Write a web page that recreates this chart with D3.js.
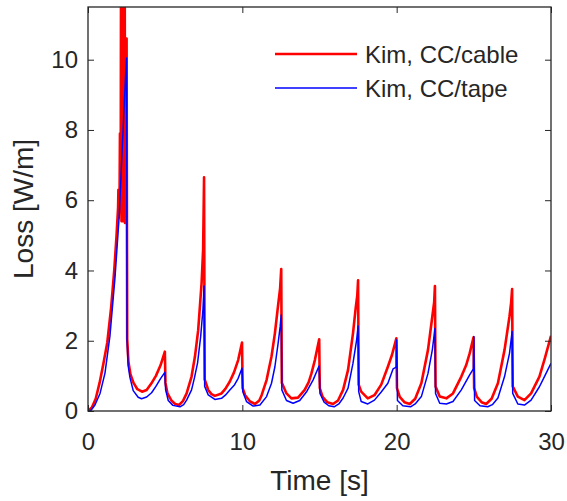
<!DOCTYPE html>
<html>
<head>
<meta charset="utf-8">
<script src="https://cdn.jsdelivr.net/npm/d3@7"></script>
<style>
  body { margin: 0; background: #fff; }
  text { font-family: "Liberation Sans", Arial, sans-serif; fill: #262626; }
</style>
</head>
<body>
<div id="container"></div>
<script>
// Chart size and plot box
const width = 567;
const height = 501;
const marginTop = 7;
const marginRight = 16;
const marginBottom = 90;
const marginLeft = 88;

// Values
const timeCable = [
  0, 0.25, 0.5, 0.75, 1.0, 1.25, 1.5, 1.7, 1.85, 1.95, 1.97, 1.99, 2.05, 2.07, 2.09, 2.12,
  2.14, 2.17, 2.2, 2.23, 2.26, 2.29, 2.32, 2.35, 2.38, 2.4, 2.44, 2.5, 2.54, 2.62, 2.75,
  2.95, 3.2, 3.5, 3.8, 4.1, 4.4, 4.7, 4.98,
  5.02, 5.15, 5.4, 5.65, 5.9, 6.15, 6.39, 6.71, 6.93, 7.14, 7.36, 7.46, 7.52, 7.56, 7.79,
  8.0, 8.22, 8.65, 8.9, 9.19, 9.46, 9.73, 9.98,
  10.02, 10.18, 10.5, 10.82, 11.1, 11.25, 11.57, 11.89, 12.11, 12.32, 12.45, 12.52, 12.56,
  12.86, 13.18, 13.61, 14.04, 14.3, 14.48, 14.7, 14.98,
  15.02, 15.2, 15.5, 15.88, 16.2, 16.53, 16.85, 17.17, 17.35, 17.45, 17.5, 17.54, 17.7,
  18.13, 18.56, 19.0, 19.43, 19.7, 19.98,
  20.02, 20.2, 20.5, 20.85, 21.2, 21.6, 22.03, 22.31, 22.43, 22.48, 22.52, 22.79, 23.22,
  23.65, 24.19, 24.5, 24.73, 24.98,
  25.02, 25.2, 25.5, 25.8, 26.15, 26.56, 26.99, 27.31, 27.42, 27.48, 27.52, 27.85, 28.28,
  28.71, 29.25, 29.6, 30
];
const lossCable = [
  0, 0.1, 0.35, 0.8, 1.35, 1.95, 2.95, 4.0, 5.0, 5.8, 6.3, 5.5, 6.4, 7.9, 6.0, 6.6,
  12.5, 5.4, 12.5, 5.4, 12.5, 5.4, 12.5, 5.4, 12.5, 5.35, 10.6, 10.6, 2.05, 1.4, 1.05,
  0.8, 0.62, 0.55, 0.6, 0.78, 1.0, 1.3, 1.69,
  0.8, 0.5, 0.3, 0.2, 0.17, 0.28, 0.5, 0.98, 1.55, 2.3, 3.64, 4.6, 6.65, 0.9, 0.6,
  0.48, 0.43, 0.5, 0.63, 0.84, 1.1, 1.45, 1.95,
  0.65, 0.45, 0.27, 0.2, 0.3, 0.45, 0.88, 1.55, 2.21, 3.02, 3.5, 4.04, 0.8,
  0.5, 0.36, 0.38, 0.6, 0.82, 1.07, 1.45, 2.04,
  0.65, 0.4, 0.25, 0.2, 0.3, 0.6, 1.17, 2.21, 2.95, 3.3, 3.72, 0.75, 0.55,
  0.36, 0.45, 0.75, 1.26, 1.6, 2.07,
  0.65, 0.4, 0.25, 0.2, 0.35, 0.79, 1.74, 2.69, 3.1, 3.56, 0.7, 0.41, 0.36,
  0.5, 0.98, 1.3, 1.64, 2.1,
  0.65, 0.4, 0.25, 0.2, 0.35, 0.79, 1.74, 2.69, 3.1, 3.47, 0.7, 0.41, 0.31,
  0.5, 0.98, 1.5, 2.14
];

const timeTape = [
  0, 0.2, 0.45, 0.78, 1.1, 1.42, 1.75, 2.03, 2.24, 2.43, 2.5, 2.53, 2.6, 2.72, 2.93, 3.25,
  3.47, 3.8, 4.12, 4.4, 4.7, 4.98,
  5.03, 5.2, 5.5, 5.96, 6.2, 6.39, 6.71, 6.9, 7.1, 7.3, 7.45, 7.52, 7.56, 7.79, 8.22, 8.65,
  8.9, 9.19, 9.5, 9.73, 9.98,
  10.03, 10.27, 10.7, 11.14, 11.57, 11.89, 12.11, 12.32, 12.45, 12.52, 12.56, 12.86, 13.29,
  13.72, 14.15, 14.58, 14.97,
  15.03, 15.3, 15.6, 15.95, 16.25, 16.53, 16.85, 17.17, 17.4, 17.5, 17.54, 17.7, 18.13,
  18.56, 19.0, 19.43, 19.77, 19.97, 20.0,
  20.05, 20.4, 20.9, 21.2, 21.6, 22.03, 22.31, 22.48, 22.52, 22.79, 23.22, 23.65, 24.19,
  24.73, 24.97, 25.0,
  25.05, 25.4, 25.9, 26.2, 26.56, 26.99, 27.31, 27.48, 27.52, 27.85, 28.28, 28.71, 29.25,
  29.6, 30
];
const lossTape = [
  0, 0.02, 0.17, 0.5, 1.08, 2.13, 3.8, 5.6, 7.7, 9.5, 10.05, 2.05, 1.3, 0.95, 0.58, 0.39,
  0.35, 0.4, 0.52, 0.7, 0.92, 1.1,
  0.6, 0.3, 0.16, 0.12, 0.18, 0.31, 0.6, 0.95, 1.37, 2.12, 2.9, 3.56, 0.7, 0.46, 0.33, 0.36,
  0.45, 0.6, 0.75, 0.93, 1.22,
  0.55, 0.27, 0.14, 0.17, 0.41, 0.79, 1.26, 1.93, 2.4, 2.73, 0.6, 0.3, 0.22,
  0.3, 0.54, 0.88, 1.28,
  0.5, 0.25, 0.15, 0.12, 0.2, 0.37, 0.65, 1.36, 2.0, 2.42, 0.55, 0.27, 0.2,
  0.31, 0.54, 0.79, 1.2, 1.25, 2.02,
  0.3, 0.15, 0.12, 0.2, 0.41, 1.07, 1.74, 2.35, 0.5, 0.22, 0.2, 0.27, 0.6,
  1.03, 1.2, 2.12,
  0.3, 0.15, 0.12, 0.18, 0.37, 0.98, 1.64, 2.26, 0.5, 0.2, 0.17, 0.31, 0.69,
  1.0, 1.36
];

const xTicks = [0, 10, 20, 30];
const yTicks = [0, 2, 4, 6, 8, 10];
const seriesNames = ["Kim, CC/cable", "Kim, CC/tape"];
const seriesColors = ["#ff0000", "#0000ff"];
const seriesWidths = [2.6, 1.5];

const svg = d3.create("svg").attr("width", width).attr("height", height);

const x = d3.scaleLinear().domain([0, 30]).range([marginLeft, width - marginRight]);
const y = d3.scaleLinear().domain([0, 11.5]).range([height - marginBottom, marginTop]);

// clip the lines to the plot box
svg.append("clipPath")
  .attr("id", "plot-clip")
  .append("rect")
  .attr("x", marginLeft)
  .attr("y", marginTop)
  .attr("width", width - marginLeft - marginRight)
  .attr("height", height - marginTop - marginBottom);

const line = d3.line()
  .x(d => x(d[0]))
  .y(d => y(d[1]));

const series = [
  d3.zip(timeCable, lossCable),
  d3.zip(timeTape, lossTape)
];

const lines = svg.append("g").attr("clip-path", "url(#plot-clip)");
series.forEach((s, i) => {
  lines.append("path")
    .datum(s)
    .attr("fill", "none")
    .attr("stroke", seriesColors[i])
    .attr("stroke-width", seriesWidths[i])
    .attr("stroke-linejoin", "round")
    .attr("d", line);
});

// Axes, ticks pointing inward (MATLAB style box)
const axisColor = "#262626";
function styleAxis(g) {
  g.select(".domain").remove();
  g.selectAll(".tick line").attr("stroke", axisColor).attr("stroke-width", 1);
  g.selectAll(".tick text")
    .attr("font-size", 24)
    .attr("fill", axisColor)
    .attr("font-family", "Liberation Sans, Arial, sans-serif");
}

svg.append("g")
  .attr("transform", `translate(0,${height - marginBottom})`)
  .call(d3.axisBottom(x).tickValues(xTicks).tickSize(-6).tickPadding(22))
  .call(styleAxis);

svg.append("g")
  .attr("transform", `translate(${marginLeft},0)`)
  .call(d3.axisLeft(y).tickValues(yTicks).tickSize(-6).tickPadding(10))
  .call(styleAxis);

svg.append("g")
  .attr("transform", `translate(0,${marginTop})`)
  .call(d3.axisTop(x).tickValues(xTicks).tickSize(-6).tickFormat(""))
  .call(styleAxis);

svg.append("g")
  .attr("transform", `translate(${width - marginRight},0)`)
  .call(d3.axisRight(y).tickValues(yTicks).tickSize(-6).tickFormat(""))
  .call(styleAxis);

svg.append("rect")
  .attr("x", marginLeft)
  .attr("y", marginTop)
  .attr("width", width - marginLeft - marginRight)
  .attr("height", height - marginTop - marginBottom)
  .attr("fill", "none")
  .attr("stroke", axisColor)
  .attr("stroke-width", 1.3);

// Axis labels
svg.append("text")
  .attr("x", (marginLeft + width - marginRight) / 2)
  .attr("y", 490)
  .attr("text-anchor", "middle")
  .attr("font-size", 28)
  .text("Time [s]");

svg.append("text")
  .attr("transform", `translate(33,${(marginTop + height - marginBottom) / 2}) rotate(-90)`)
  .attr("text-anchor", "middle")
  .attr("font-size", 28)
  .text("Loss [W/m]");

// Legend (no box)
const legend = svg.append("g").attr("transform", "translate(275,54)");
seriesNames.forEach((name, i) => {
  const row = legend.append("g").attr("transform", `translate(0,${i * 34})`);
  row.append("line")
    .attr("x1", 0).attr("x2", 82)
    .attr("stroke", seriesColors[i])
    .attr("stroke-width", seriesWidths[i]);
  row.append("text")
    .attr("x", 90)
    .attr("y", 9)
    .attr("font-size", 24)
    .text(name);
});

document.getElementById("container").append(svg.node());
</script>
</body>
</html>
